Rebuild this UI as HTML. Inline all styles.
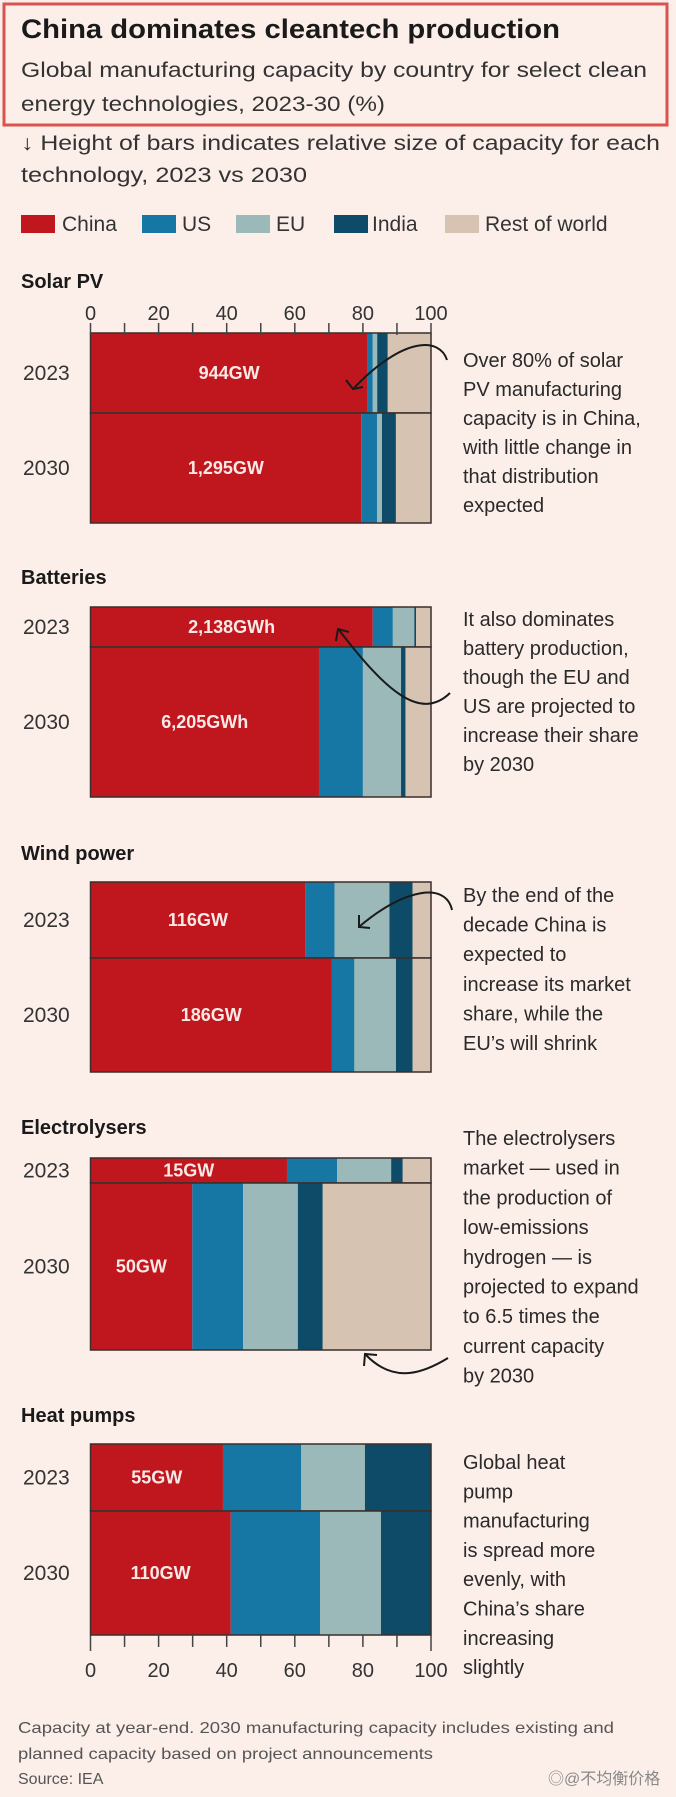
<!DOCTYPE html>
<html><head><meta charset="utf-8"><style>
html,body{margin:0;padding:0;background:#fcefe9;}
svg{display:block;font-family:"Liberation Sans","Noto Sans CJK SC",sans-serif;}
</style></head><body>
<svg id="chart" width="676" height="1797" viewBox="0 0 676 1797" xmlns="http://www.w3.org/2000/svg">
<rect x="0" y="0" width="676" height="1797" fill="#fcefe9"/>
<rect x="4" y="4" width="663" height="121" fill="none" stroke="#d9534f" stroke-width="3"/>
<text x="21" y="38" font-size="27" font-weight="bold" fill="#1a1a1a" textLength="539" lengthAdjust="spacingAndGlyphs">China dominates cleantech production</text>
<text x="21" y="77" font-size="21" fill="#333" textLength="626" lengthAdjust="spacingAndGlyphs">Global manufacturing capacity by country for select clean</text>
<text x="21" y="111" font-size="21" fill="#333" textLength="364" lengthAdjust="spacingAndGlyphs">energy technologies, 2023-30 (%)</text>
<text x="21" y="150" font-size="21" fill="#333" textLength="639" lengthAdjust="spacingAndGlyphs">↓ Height of bars indicates relative size of capacity for each</text>
<text x="21" y="182" font-size="21" fill="#333" textLength="286" lengthAdjust="spacingAndGlyphs">technology, 2023 vs 2030</text>
<g id="legend"></g>
<g id="panels"></g>
<g fill="none" stroke="#1a1a1a" stroke-width="2">
<path d="M447,360 C440,338 405,335 354,388"/>
<path d="M346,380 L353,389 L363,387"/>
<path d="M450,693 C420,722 385,690 339,630"/>
<path d="M336,641 L338,629 L349,632"/>
<path d="M452,910 C446,882 405,888 360,926"/>
<path d="M359,915 L359,927 L370,928"/>
<path d="M448,1358 C425,1372 395,1385 366,1355"/>
<path d="M364,1366 L365,1354 L377,1355"/>
</g>
<g font-size="16" fill="#555">
<text x="18" y="1733" textLength="596" lengthAdjust="spacingAndGlyphs">Capacity at year-end. 2030 manufacturing capacity includes existing and</text>
<text x="18" y="1759" textLength="415" lengthAdjust="spacingAndGlyphs">planned capacity based on project announcements</text>
<text x="18" y="1784">Source: IEA</text>
</g>
<text x="548" y="1784" font-size="16" fill="#888">◎@不均衡价格</text>
</svg>
<script>
const techs = ["Solar PV", "Batteries", "Wind power", "Electrolysers", "Heat pumps"];
const years = ["2023", "2030"];
const capacityLabels = [["944GW", "1,295GW"], ["2,138GWh", "6,205GWh"], ["116GW", "186GW"], ["15GW", "50GW"], ["55GW", "110GW"]];
const china = [[81.4, 79.5], [82.9, 67.1], [63.1, 70.9], [57.7, 29.9], [38.9, 41.2]];
const us = [[1.5, 4.7], [5.9, 12.9], [8.6, 6.6], [14.7, 14.9], [23.0, 26.2]];
const eu = [[1.3, 1.4], [6.3, 11.2], [16.1, 12.2], [15.9, 16.1], [18.7, 17.9]];
const india = [[3.1, 4.1], [0.5, 1.3], [6.8, 4.9], [3.4, 7.3], [19.4, 14.7]];
const restOfWorld = [[12.7, 10.3], [4.4, 7.5], [5.4, 5.4], [8.3, 31.8], [0, 0]];
const seriesNames = ["China", "US", "EU", "India", "Rest of world"];
const tickValues = [0, 20, 40, 60, 80, 100];
const annotations = [
 ["Over 80% of solar", "PV manufacturing", "capacity is in China,", "with little change in", "that distribution", "expected"],
 ["It also dominates", "battery production,", "though the EU and", "US are projected to", "increase their share", "by 2030"],
 ["By the end of the", "decade China is", "expected to", "increase its market", "share, while the", "EU’s will shrink"],
 ["The electrolysers", "market — used in", "the production of", "low-emissions", "hydrogen — is", "projected to expand", "to 6.5 times the", "current capacity", "by 2030"],
 ["Global heat", "pump", "manufacturing", "is spread more", "evenly, with", "China’s share", "increasing", "slightly"]
];

const colors = ["#c0161e", "#1677a5", "#9bb9b8", "#0e4b69", "#d6c3b2"];
const layout = [
 {label:281, y:[333,413,523], note:360, gap:29, axisTop:true},
 {label:577, y:[607,647,797], note:619, gap:29},
 {label:853, y:[882,958,1072], note:895, gap:29.6},
 {label:1127, y:[1158,1183,1350], note:1138, gap:29.7},
 {label:1415, y:[1444,1511,1635], note:1462, gap:29.3, axisBottom:true}
];
const X0 = 90.5, X1 = 431;
const xScale = v => X0 + (X1 - X0) * v / 100;
const NS = "http://www.w3.org/2000/svg";
function mk(tag, attrs, parent) {
  const e = document.createElementNS(NS, tag);
  for (const k in attrs) e.setAttribute(k, attrs[k]);
  parent.appendChild(e);
  return e;
}
const legend = document.getElementById("legend");
const legendPos = [[21, 62], [142, 182], [236, 276], [334, 372], [445, 485]];
seriesNames.forEach((n, i) => {
  const r = mk("rect", {x: legendPos[i][0], y: 215, width: 34, height: 18, fill: colors[i]}, legend);
  
  
  const t = mk("text", {x: legendPos[i][1], y: 231, "font-size": 21, fill: "#333"}, legend);
  t.textContent = n;
  
  
});
const panels = document.getElementById("panels");
const series = [china, us, eu, india, restOfWorld];
techs.forEach((tech, ti) => {
  const L = layout[ti];
  const g = mk("g", {}, panels);
  
  
  const lbl = mk("text", {x: 21, y: L.label + 7, "font-size": 20, "font-weight": "bold", fill: "#1a1a1a"}, g);
  lbl.textContent = tech;
  
  
  years.forEach((yr, yi) => {
    const top = L.y[yi], bot = L.y[yi + 1];
    let cum = 0;
    series.forEach((s, si) => {
      const v = s[ti][yi];
      if (v > 0) {
        const r = mk("rect", {x: xScale(cum), y: top, width: xScale(cum + v) - xScale(cum), height: bot - top, fill: colors[si]}, g);
        
        
      }
      cum += v;
    });
    const o = mk("rect", {x: X0, y: top, width: X1 - X0, height: bot - top, fill: "none", stroke: "#3a2f2c", "stroke-width": 1.5}, g);
    
    
    const mid = (top + bot) / 2;
    const yl = mk("text", {x: 23, y: mid + 7, "font-size": 21, fill: "#333"}, g);
    yl.textContent = yr;
    
    
    const cv = mk("text", {x: xScale(china[ti][yi] / 2), y: mid + 6, "font-size": 18, "font-weight": "bold", fill: "#fbe9e6", "text-anchor": "middle"}, g);
    cv.textContent = capacityLabels[ti][yi];
    
    
  });
  annotations[ti].forEach((line, li) => {
    const t = mk("text", {x: 463, y: L.note + li * L.gap + 7, "font-size": 20, fill: "#2a2a2a"}, g);
    t.textContent = line;
    
    
  });
  if (L.axisTop || L.axisBottom) {
    const ax = mk("g", {}, g);
    
    
    const ty0 = L.axisTop ? L.y[0] - 10 : L.y[2];
    for (let v = 0; v <= 100; v += 10) {
      const tk = mk("line", {x1: xScale(v), x2: xScale(v), y1: ty0, y2: ty0 + (L.axisBottom && (v===0||v===100) ? 16 : 12), stroke: "#444", "stroke-width": 1.5}, ax);
      
      
    }
    tickValues.forEach(v => {
      const t = mk("text", {x: xScale(v), y: (L.axisTop ? 313 : 1670) + 7, "font-size": 20, fill: "#333", "text-anchor": "middle"}, ax);
      t.textContent = v;
      
      
    });
  }
});
</script>
</body></html>
